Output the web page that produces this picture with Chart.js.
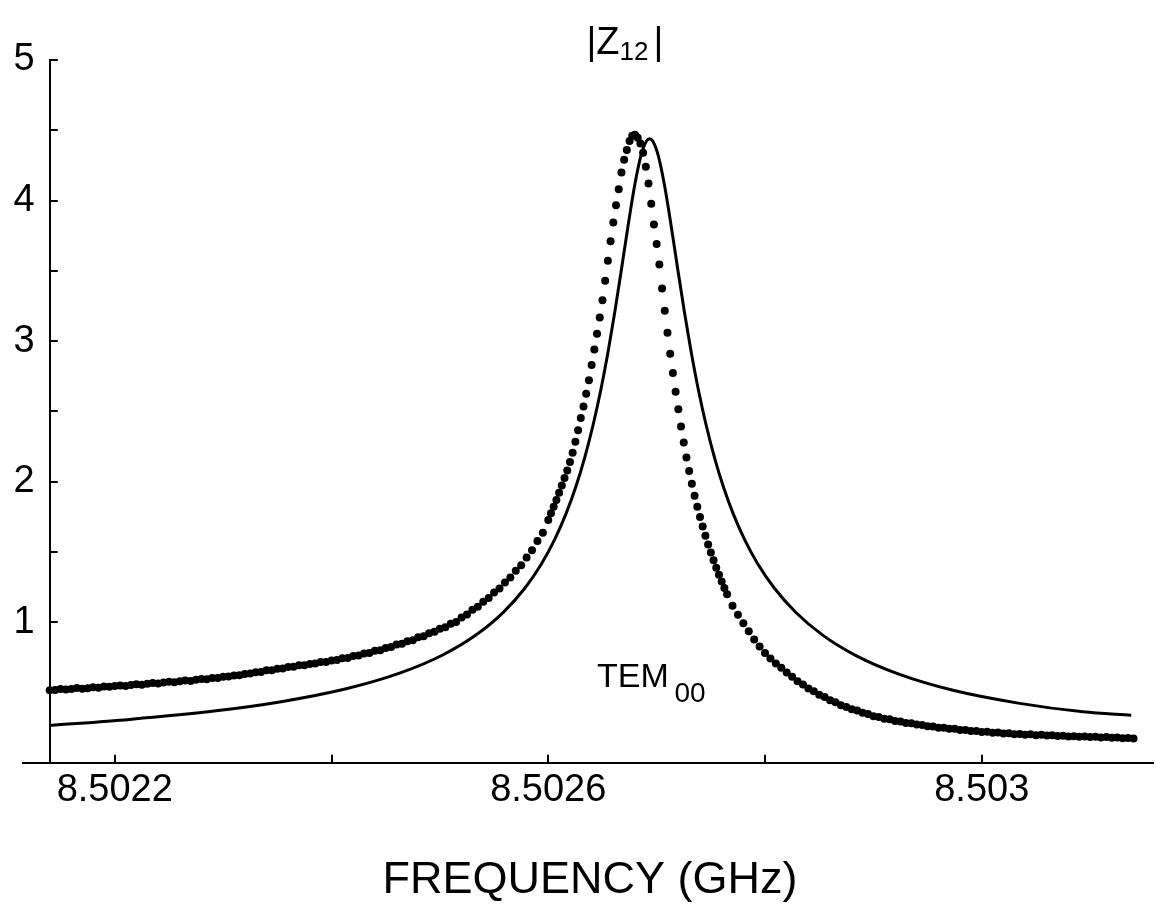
<!DOCTYPE html>
<html lang="en">
<head>
<meta charset="UTF-8">
<title>|Z12| - TEM00 resonance</title>
<script src="https://cdn.jsdelivr.net/npm/chart.js"></script>
<style>
  html, body { margin: 0; padding: 0; background: #fff; }
  canvas { display: block; }
</style>
</head>
<body>
<canvas id="z12Chart" width="1157" height="919"></canvas>
<script>
// measured |Z12| (dots) - lower tail, sampled every 5 kHz
const measFreqLow = [
  8.50214, 8.502145, 8.50215, 8.502155, 8.50216, 8.502165, 8.50217, 8.502175, 8.50218, 8.502185,
  8.50219, 8.502195, 8.5022, 8.502205, 8.50221, 8.502215, 8.50222, 8.502225, 8.50223, 8.502235,
  8.50224, 8.502245, 8.50225, 8.502255, 8.50226, 8.502265, 8.50227, 8.502275, 8.50228, 8.502285,
  8.50229, 8.502295, 8.5023, 8.502305, 8.50231, 8.502315, 8.50232, 8.502325, 8.50233, 8.502335,
  8.50234, 8.502345, 8.50235, 8.502355, 8.50236, 8.502365, 8.50237, 8.502375, 8.50238, 8.502385,
  8.50239, 8.502395, 8.5024, 8.502405, 8.50241, 8.502415, 8.50242, 8.502425, 8.50243, 8.502435,
  8.50244, 8.502445, 8.50245, 8.502455, 8.50246, 8.502465, 8.50247, 8.502475, 8.50248, 8.502485,
  8.50249, 8.502495, 8.5025, 8.502505, 8.50251, 8.502515, 8.50252, 8.502525, 8.50253, 8.502535,
  8.50254, 8.502545, 8.50255, 8.502555, 8.50256, 8.502565, 8.50257, 8.502575, 8.50258, 8.502585,
  8.50259, 8.502595
];
const measAmpLow = [
  0.515, 0.518, 0.524, 0.521, 0.525, 0.531, 0.527, 0.530, 0.536, 0.534,
  0.543, 0.540, 0.545, 0.549, 0.546, 0.553, 0.559, 0.555, 0.561, 0.567,
  0.564, 0.571, 0.576, 0.572, 0.580, 0.585, 0.582, 0.590, 0.596, 0.593,
  0.603, 0.602, 0.611, 0.613, 0.620, 0.622, 0.632, 0.634, 0.644, 0.646,
  0.657, 0.658, 0.668, 0.670, 0.681, 0.682, 0.693, 0.694, 0.703, 0.706,
  0.716, 0.717, 0.728, 0.730, 0.743, 0.745, 0.759, 0.762, 0.777, 0.780,
  0.796, 0.800, 0.817, 0.823, 0.841, 0.847, 0.865, 0.872, 0.892, 0.900,
  0.921, 0.931, 0.953, 0.964, 0.988, 1.002, 1.033, 1.054, 1.088, 1.110,
  1.146, 1.172, 1.211, 1.240, 1.283, 1.317, 1.365, 1.405, 1.460, 1.512,
  1.578, 1.637
];
// measured - around the resonance, every 2.5 kHz
const measFreqPeak = [
  8.5026, 8.5026025, 8.502605, 8.5026075, 8.50261, 8.5026125, 8.502615, 8.5026175, 8.50262, 8.5026225,
  8.502625, 8.5026275, 8.50263, 8.5026325, 8.502635, 8.5026375, 8.50264, 8.5026425, 8.502645, 8.5026475,
  8.50265, 8.5026525, 8.502655, 8.5026575, 8.50266, 8.5026625, 8.502665, 8.5026675, 8.50267, 8.5026725,
  8.502675, 8.5026775, 8.50268, 8.5026825, 8.502685, 8.5026875, 8.50269, 8.5026925, 8.502695, 8.5026975,
  8.5027, 8.5027025, 8.502705, 8.5027075, 8.50271, 8.5027125, 8.502715, 8.5027175, 8.50272, 8.5027225,
  8.502725, 8.5027275, 8.50273, 8.5027325, 8.502735, 8.5027375, 8.50274, 8.5027425, 8.502745, 8.5027475,
  8.50275, 8.5027525, 8.502755, 8.5027575, 8.50276, 8.5027625, 8.502765
];
const measAmpPeak = [
  1.727, 1.775, 1.822, 1.870, 1.920, 1.972, 2.026, 2.080, 2.140, 2.205,
  2.283, 2.365, 2.452, 2.535, 2.625, 2.722, 2.830, 2.940, 3.052, 3.168,
  3.290, 3.430, 3.572, 3.710, 3.843, 3.967, 4.081, 4.200, 4.290, 4.360,
  4.423, 4.461, 4.468, 4.446, 4.405, 4.340, 4.240, 4.122, 3.977, 3.830,
  3.690, 3.545, 3.375, 3.215, 3.060, 2.910, 2.772, 2.640, 2.515, 2.392,
  2.278, 2.172, 2.075, 1.985, 1.900, 1.822, 1.748, 1.680, 1.615, 1.553,
  1.495, 1.440, 1.388, 1.338, 1.290, 1.243, 1.198
];
// measured - upper tail, every 5 kHz
const measFreqHigh = [
  8.50277, 8.502775, 8.50278, 8.502785, 8.50279, 8.502795, 8.5028, 8.502805, 8.50281, 8.502815,
  8.50282, 8.502825, 8.50283, 8.502835, 8.50284, 8.502845, 8.50285, 8.502855, 8.50286, 8.502865,
  8.50287, 8.502875, 8.50288, 8.502885, 8.50289, 8.502895, 8.5029, 8.502905, 8.50291, 8.502915,
  8.50292, 8.502925, 8.50293, 8.502935, 8.50294, 8.502945, 8.50295, 8.502955, 8.50296, 8.502965,
  8.50297, 8.502975, 8.50298, 8.502985, 8.50299, 8.502995, 8.503, 8.503005, 8.50301, 8.503015,
  8.50302, 8.503025, 8.50303, 8.503035, 8.50304, 8.503045, 8.50305, 8.503055, 8.50306, 8.503065,
  8.50307, 8.503075, 8.50308, 8.503085, 8.50309, 8.503095, 8.5031, 8.503105, 8.50311, 8.503115,
  8.50312, 8.503125, 8.50313, 8.503135, 8.50314
];
const measAmpHigh = [
  1.117, 1.052, 0.992, 0.935, 0.876, 0.826, 0.781, 0.742, 0.706, 0.675,
  0.642, 0.612, 0.580, 0.557, 0.528, 0.509, 0.483, 0.467, 0.445, 0.430,
  0.409, 0.397, 0.380, 0.371, 0.355, 0.347, 0.331, 0.326, 0.313, 0.309,
  0.297, 0.294, 0.283, 0.281, 0.271, 0.269, 0.260, 0.258, 0.249, 0.249,
  0.241, 0.241, 0.233, 0.233, 0.226, 0.226, 0.219, 0.220, 0.213, 0.215,
  0.208, 0.209, 0.203, 0.205, 0.199, 0.202, 0.196, 0.198, 0.193, 0.195,
  0.190, 0.192, 0.187, 0.189, 0.184, 0.187, 0.182, 0.184, 0.179, 0.182,
  0.177, 0.179, 0.174, 0.176, 0.172
];

// fitted curve (solid line)
const fitFreq = [
  8.5021402, 8.5022135, 8.5022935, 8.5023535, 8.5024135, 8.5024635, 8.5025035, 8.5025335, 8.5025585, 8.5025785,
  8.5025935, 8.5026055, 8.5026165, 8.5026255, 8.5026335, 8.5026415, 8.5026485, 8.5026555, 8.5026615, 8.5026675,
  8.5026735, 8.5026795, 8.5026855, 8.5026905, 8.5026935, 8.5026965, 8.5027015, 8.5027075, 8.5027135, 8.5027195,
  8.5027255, 8.5027315, 8.5027385, 8.5027455, 8.5027535, 8.5027615, 8.5027705, 8.5027815, 8.5027935, 8.5028085,
  8.5028285, 8.5028535, 8.5028835, 8.5029235, 8.5029735, 8.5030335, 8.5030935, 8.5031379
];
const fitAmp = [
  0.265, 0.308, 0.369, 0.434, 0.526, 0.639, 0.770, 0.910, 1.070, 1.243,
  1.412, 1.582, 1.774, 1.965, 2.167, 2.408, 2.654, 2.939, 3.213, 3.510,
  3.814, 4.098, 4.319, 4.422, 4.440, 4.422, 4.319, 4.098, 3.814, 3.510,
  3.213, 2.939, 2.654, 2.408, 2.167, 1.965, 1.774, 1.582, 1.412, 1.243,
  1.069, 0.906, 0.764, 0.630, 0.515, 0.424, 0.362, 0.338
];

// axes
const xTickValues = [8.5022, 8.5024, 8.5026, 8.5028, 8.503];
const xTickLabels = [8.5022, 8.5026, 8.503];
const yTickValues = [0.5, 1, 1.5, 2, 2.5, 3, 3.5, 4, 4.5, 5];
const yTickLabels = [1, 2, 3, 4, 5];
const xMin = 8.50214, xMax = 8.503158;

const measFreq = measFreqLow.concat(measFreqPeak, measFreqHigh);
const measAmp = measAmpLow.concat(measAmpPeak, measAmpHigh);

const FONT = '"Liberation Sans", Arial, Helvetica, sans-serif';
Chart.defaults.font.family = FONT;
Chart.defaults.color = '#000';

function pickLabel(list, value) {
    const hit = list.find(t => Math.abs(t - value) < 1e-9);
    return hit !== undefined ? String(hit) : '';
}

// inward tick marks, x axis stub left of the y axis, title and mode label
const decorations = {
    id: 'decorations',
    afterDraw(chart) {
        const ctx = chart.ctx;
        const xs = chart.scales.x;
        const ys = chart.scales.y;
        const area = chart.chartArea;
        ctx.save();
        ctx.strokeStyle = '#000';
        ctx.lineWidth = 2;
        ctx.beginPath();
        ctx.moveTo(22, Math.round(area.bottom));
        ctx.lineTo(area.left, Math.round(area.bottom));
        xs.ticks.forEach(t => {
            const px = Math.round(xs.getPixelForValue(t.value));
            ctx.moveTo(px, area.bottom);
            ctx.lineTo(px, area.bottom - 8);
        });
        ys.ticks.forEach(t => {
            const py = Math.round(ys.getPixelForValue(t.value));
            ctx.moveTo(area.left, py);
            ctx.lineTo(area.left + 8, py);
        });
        ctx.stroke();

        ctx.fillStyle = '#000';
        ctx.textAlign = 'left';
        ctx.textBaseline = 'alphabetic';

        // |Z12|
        let x = 586.5;
        ctx.font = '38px ' + FONT;
        ctx.fillText('|Z', x, 53.5);
        x += ctx.measureText('|Z').width;
        ctx.font = '26px ' + FONT;
        ctx.fillText('12', x, 59.5);
        x += ctx.measureText('12').width + 5;
        ctx.font = '38px ' + FONT;
        ctx.fillText('|', x, 53.5);

        // TEM00
        const tx = xs.getPixelForValue(8.502645);
        const ty = ys.getPixelForValue(0.541);
        ctx.font = '34px ' + FONT;
        ctx.fillText('TEM', tx, ty);
        ctx.font = '28px ' + FONT;
        ctx.fillText('00', tx + 77.5, ty + 15);

        // axis title
        ctx.textAlign = 'center';
        ctx.font = '45px ' + FONT;
        ctx.fillText('FREQUENCY (GHz)', 590, 893);
        ctx.restore();
    }
};

const chartConfig = {
    type: 'scatter',
    data: {
        datasets: [{
            label: 'measured',
            data: measFreq.map((f, i) => ({ x: f, y: measAmp[i] })),
            showLine: false,
            pointRadius: 4,
            pointHoverRadius: 4,
            pointBackgroundColor: '#000',
            pointBorderWidth: 0,
            clip: false
        }, {
            label: 'fit',
            data: fitFreq.map((f, i) => ({ x: f, y: fitAmp[i] })),
            showLine: true,
            borderColor: '#000',
            borderWidth: 3,
            pointRadius: 0,
            cubicInterpolationMode: 'monotone',
            fill: false,
            clip: false
        }]
    },
    options: {
        responsive: false,
        animation: false,
        events: [],
        layout: { padding: { left: 0, top: 60, right: 0, bottom: 0 } },
        plugins: {
            legend: { display: false },
            tooltip: { enabled: false },
            title: { display: false }
        },
        scales: {
            x: {
                type: 'linear',
                position: 'bottom',
                min: xMin,
                max: xMax,
                grid: { display: false, drawTicks: false },
                border: { display: true, color: '#000', width: 2 },
                afterBuildTicks: s => { s.ticks = xTickValues.map(v => ({ value: v })); },
                afterFit: s => { s.height = 156.3; },
                ticks: {
                    autoSkip: false,
                    maxRotation: 0,
                    padding: 5,
                    font: { size: 38 },
                    callback: v => pickLabel(xTickLabels, v)
                }
            },
            y: {
                type: 'linear',
                position: 'left',
                min: 0,
                max: 5,
                grid: { display: false, drawTicks: false },
                border: { display: true, color: '#000', width: 2 },
                afterBuildTicks: s => { s.ticks = yTickValues.map(v => ({ value: v })); },
                afterFit: s => { s.width = 49.75; },
                ticks: {
                    autoSkip: false,
                    padding: 15,
                    font: { size: 38 },
                    callback: v => pickLabel(yTickLabels, v)
                }
            }
        }
    },
    plugins: [decorations]
};

const z12Chart = new Chart(document.getElementById('z12Chart').getContext('2d'), chartConfig);
</script>
</body>
</html>
